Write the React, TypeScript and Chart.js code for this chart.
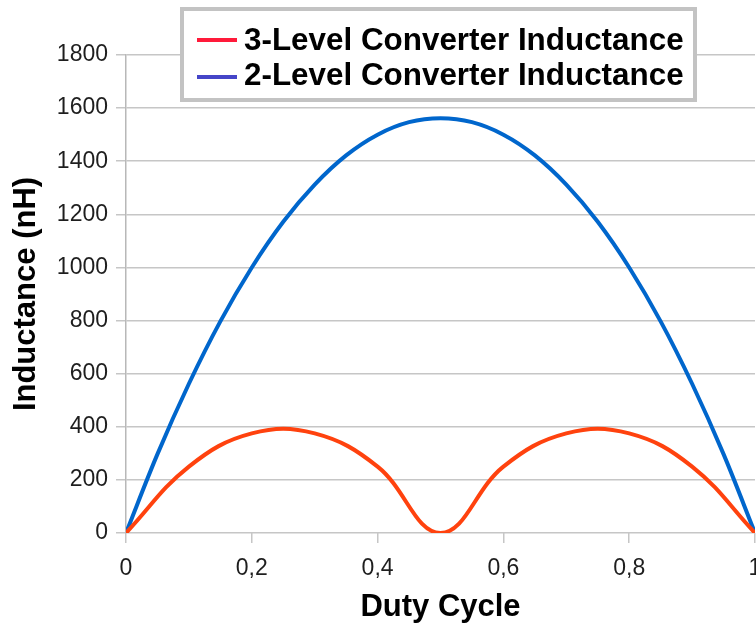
import React, { useEffect, useRef } from "react";
import { Chart, registerables } from "chart.js";

Chart.register(...registerables);

const dutyCycle3 = [0, 0.1, 0.2, 0.3, 0.4, 0.5, 0.6, 0.7, 0.8, 0.9, 1];
const level3Inductance = [0, 250, 375, 375, 250, 0, 250, 375, 375, 250, 0];
const dutyCycle2 = [0, 0.05, 0.1, 0.15, 0.2, 0.25, 0.3, 0.35, 0.4, 0.45, 0.5, 0.55, 0.6, 0.65, 0.7, 0.75, 0.8, 0.85, 0.9, 0.95, 1];
const level2Inductance = [0, 297, 562, 797, 1000, 1172, 1312, 1422, 1500, 1547, 1562, 1547, 1500, 1422, 1312, 1172, 1000, 797, 562, 297, 0];
const xTickLabels = ["0", "0,2", "0,4", "0,6", "0,8", "1"];
const seriesLabels = ["3-Level Converter Inductance", "2-Level Converter Inductance"];
const lineColors = ["#ff420e", "#0066cc"];
const legendColors = ["#ff1a3a", "#4545c8"];

const FONT = "'Liberation Sans', Arial, sans-serif";

const boxLegend = {
  id: "boxLegend",
  afterDraw(chart: any) {
    const ctx = chart.ctx;
    ctx.save();
    const x0 = 182, y0 = 9, w = 513, h = 91;
    ctx.fillStyle = "#ffffff";
    ctx.fillRect(x0, y0, w, h);
    ctx.strokeStyle = "#c3c3c3";
    ctx.lineWidth = 4;
    ctx.strokeRect(x0, y0, w, h);
    const swatchY = [40, 77];
    const baseY = [50, 85];
    chart.data.datasets.forEach((ds: any, i: number) => {
      ctx.strokeStyle = legendColors[i];
      ctx.lineWidth = 4;
      ctx.lineCap = "butt";
      ctx.beginPath();
      ctx.moveTo(197, swatchY[i]);
      ctx.lineTo(237, swatchY[i]);
      ctx.stroke();
      ctx.fillStyle = "#000000";
      ctx.font = `bold 31.4px ${FONT}`;
      ctx.textBaseline = "alphabetic";
      ctx.textAlign = "left";
      ctx.fillText(ds.label, 244, baseY[i]);
    });
    ctx.restore();
  },
};

export default function App() {
  const canvasRef = useRef<HTMLCanvasElement | null>(null);

  useEffect(() => {
    if (!canvasRef.current) return;
    const makeData = (xs: number[], vals: number[]) => xs.map((d, i) => ({ x: d, y: vals[i] }));
    const chart = new Chart(canvasRef.current, {
      type: "line",
      data: {
        datasets: [
          {
            label: seriesLabels[0],
            data: makeData(dutyCycle3, level3Inductance),
            borderColor: lineColors[0],
            backgroundColor: lineColors[0],
            borderWidth: 4,
            pointRadius: 0,
            tension: 0.4,
            fill: false,
          },
          {
            label: seriesLabels[1],
            data: makeData(dutyCycle2, level2Inductance),
            borderColor: lineColors[1],
            backgroundColor: lineColors[1],
            borderWidth: 4,
            pointRadius: 0,
            tension: 0.35,
            fill: false,
          },
        ],
      },
      options: {
        animation: false,
        responsive: false,
        devicePixelRatio: 1,
        layout: { padding: { top: 55, right: 25, left: 0, bottom: 0 } },
        plugins: { legend: { display: false }, tooltip: { enabled: false } },
        scales: {
          x: {
            type: "linear",
            min: 0,
            max: 1,
            afterFit(scale: any) {
              scale.height = 93;
              scale.paddingLeft = 0;
              scale.paddingRight = 0;
            },
            afterBuildTicks(scale: any) {
              scale.ticks = xTickLabels.map((_, i) => ({ value: i * 0.2 }));
            },
            ticks: {
              callback: (_v: any, i: number) => xTickLabels[i],
              font: { family: FONT, size: 23 },
              color: "#1e1e1e",
              padding: 12,
              maxRotation: 0,
            },
            grid: {
              drawOnChartArea: false,
              color: "#c6c6c6",
              lineWidth: 1.5,
              tickLength: 10,
            },
            border: { display: false },
            title: {
              display: true,
              text: "Duty Cycle",
              font: { family: FONT, size: 31, weight: "bold", lineHeight: 1.2 },
              color: "#000000",
              padding: { top: 0, bottom: 0 },
            },
          },
          y: {
            min: 0,
            max: 1800,
            afterFit(scale: any) {
              scale.width = 126;
            },
            ticks: {
              stepSize: 200,
              callback: (v: any) => String(v),
              font: { family: FONT, size: 23 },
              color: "#1e1e1e",
              padding: 8,
            },
            grid: {
              color: "#c6c6c6",
              lineWidth: 1.5,
              tickLength: 10,
            },
            border: { display: true, color: "#b8b8b8", width: 1.5 },
            title: {
              display: true,
              text: "Inductance (nH)",
              font: { family: FONT, size: 31, weight: "bold", lineHeight: 1.2 },
              color: "#000000",
              padding: { top: 8, bottom: 0 },
            },
          },
        },
      },
      plugins: [boxLegend],
    });
    return () => chart.destroy();
  }, []);

  return (
    <div style={{ position: "fixed", left: 0, top: 0, width: 756, height: 626, overflow: "hidden", background: "#fff" }}>
      <canvas ref={canvasRef} width={780} height={626} style={{ display: "block" }} />
    </div>
  );
}
